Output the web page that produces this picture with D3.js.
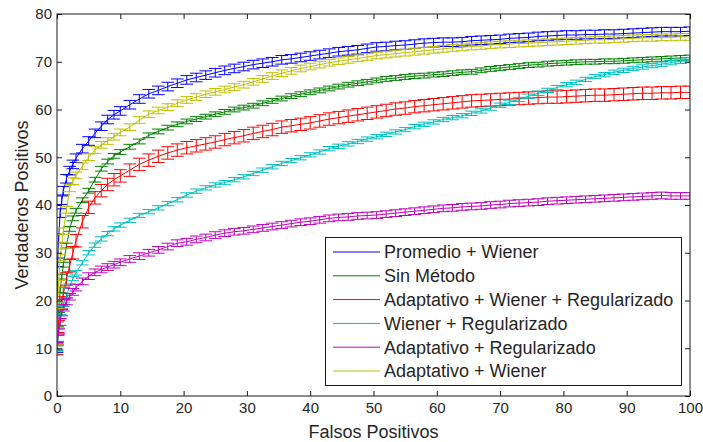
<!DOCTYPE html>
<html>
<head>
<meta charset="utf-8">
<script src="https://cdn.jsdelivr.net/npm/d3@7"></script>
<style>
  body { margin: 0; background: #fff; }
  svg { display: block; }
  text { font-family: "Liberation Sans", Arial, Helvetica, sans-serif; }
</style>
</head>
<body>
<svg id="chart" width="703" height="442"></svg>
<script>
// False positives at which each curve was sampled (shared by all methods)
const falsosPositivos = [
  0, 0.1, 0.25, 0.5, 0.75, 1, 1.5, 2, 2.5, 3, 4, 5, 6, 7, 8, 9, 10,
  11.5, 13, 14.5, 16, 17.5, 19, 20.5, 22, 23.5, 25,
  26.5, 28, 29.5, 31, 32.5, 34, 35.5, 37, 38.5, 40,
  41.5, 43, 44.5, 46, 47.5, 49, 50.5, 52, 53.5, 55,
  56.5, 58, 59.5, 61, 62.5, 64, 65.5, 67, 68.5, 70,
  71.5, 73, 74.5, 76, 77.5, 79, 80.5, 82, 83.5, 85,
  86.5, 88, 89.5, 91, 92.5, 94, 95.5, 97, 98.5, 100
];

// True positives for each method
const promedioWiener = [
  10, 28, 33, 38.3, 41, 43, 45.5, 47.2, 48.5, 49.8, 51.8, 53.4, 55.0, 56.5, 57.9, 58.9, 59.7,
  61.0, 62.2, 63.3, 64.0, 64.8, 65.5, 66.2, 66.7, 67.2, 67.7,
  68.2, 68.6, 69.0, 69.4, 69.7, 70.0, 70.4, 70.6, 70.9, 71.2,
  71.5, 71.8, 72.1, 72.3, 72.5, 72.8, 73.1, 73.2, 73.4, 73.5,
  73.7, 73.9, 74.0, 74.1, 74.1, 74.2, 74.4, 74.5, 74.6, 74.7,
  74.9, 75.0, 75.1, 75.3, 75.4, 75.5, 75.6, 75.6, 75.7, 75.7,
  75.8, 75.8, 75.9, 76.0, 76.1, 76.2, 76.3, 76.3, 76.3, 76.4
];
const sinMetodo = [
  10, 15, 18, 22.2, 25, 27.5, 31.5, 35, 37.2, 38.8, 41, 43, 45.3, 47.6, 49.1, 50.3, 51.1,
  52.2, 53.3, 54.6, 55.4, 56.2, 56.9, 57.5, 58.0, 58.5, 59.0,
  59.5, 60.0, 60.4, 60.8, 61.3, 61.8, 62.3, 62.8, 63.2, 63.6,
  64.0, 64.4, 64.8, 65.2, 65.5, 65.8, 66.1, 66.4, 66.6, 66.8,
  67.0, 67.1, 67.3, 67.4, 67.6, 67.8, 67.9, 68.2, 68.5, 68.7,
  68.9, 69.1, 69.3, 69.4, 69.6, 69.7, 69.8, 69.9, 70.0, 70.0,
  70.1, 70.1, 70.2, 70.3, 70.4, 70.5, 70.6, 70.7, 70.8, 70.9
];
const adaptWienerReg = [
  10, 12, 14.5, 17.5, 19.5, 21.5, 24.5, 27.3, 30, 32.5, 36.5, 39.5, 41.5, 43, 44.3, 45.3, 46.1,
  47.3, 48.5, 49.4, 50.2, 50.9, 51.5, 52.0, 52.4, 52.8, 53.2,
  53.7, 54.1, 54.5, 55.0, 55.4, 55.8, 56.3, 56.6, 56.9, 57.2,
  57.6, 58.0, 58.3, 58.6, 58.9, 59.2, 59.5, 59.8, 60.1, 60.3,
  60.6, 60.8, 61.0, 61.2, 61.4, 61.6, 61.8, 61.9, 62.0, 62.1,
  62.2, 62.3, 62.4, 62.5, 62.6, 62.6, 62.7, 62.8, 62.9, 63.0,
  63.0, 63.1, 63.2, 63.3, 63.4, 63.4, 63.5, 63.5, 63.6, 63.6
];
const wienerReg = [
  9, 11, 13.5, 16.6, 18.5, 19.2, 21, 23, 24.6, 25.8, 27.9, 30, 31.6, 32.9, 34, 35, 35.8,
  36.8, 37.8, 38.6, 39.4, 40.3, 41.1, 42.1, 42.9, 43.6, 44.2,
  44.7, 45.3, 45.9, 46.6, 47.3, 48.0, 48.7, 49.3, 49.9, 50.5,
  51.1, 51.8, 52.3, 52.8, 53.3, 53.8, 54.3, 54.8, 55.3, 55.8,
  56.4, 56.9, 57.4, 57.9, 58.3, 58.7, 59.2, 59.7, 60.3, 60.9,
  61.5, 62.1, 62.8, 63.4, 64.0, 64.6, 65.2, 65.7, 66.3, 66.9,
  67.3, 67.8, 68.2, 68.6, 68.9, 69.2, 69.5, 69.8, 70.1, 70.4
];
const adaptReg = [
  10.5, 12, 13.5, 15.5, 17.5, 18.5, 19.8, 20.8, 21.8, 22.7, 24, 25.1, 25.9, 26.5, 27.0, 27.5, 28,
  28.7, 29.3, 30.0, 30.6, 31.3, 32.0, 32.3, 32.8, 33.2, 33.7,
  34.1, 34.4, 34.6, 34.9, 35.2, 35.5, 35.8, 36.1, 36.4, 36.6,
  36.9, 37.2, 37.4, 37.5, 37.7, 37.8, 37.9, 38.1, 38.3, 38.5,
  38.7, 38.9, 39.1, 39.3, 39.4, 39.6, 39.7, 39.8, 40.0, 40.1,
  40.3, 40.4, 40.5, 40.6, 40.8, 40.9, 41.0, 41.1, 41.2, 41.3,
  41.4, 41.5, 41.6, 41.7, 41.8, 41.9, 42.0, 41.9, 41.9, 41.9
];
const adaptWiener = [
  10, 19, 23.5, 29, 31.5, 34.5, 39, 43.5, 45.0, 46.2, 48.1, 50.0, 51.5, 52.6, 53.4, 54.3, 55.2,
  56.3, 57.8, 59.0, 59.8, 60.5, 61.3, 62.0, 62.6, 63.2, 63.7,
  64.2, 64.7, 65.2, 65.8, 66.4, 67.0, 67.6, 68.1, 68.6, 69.0,
  69.4, 69.8, 70.1, 70.4, 70.7, 71.0, 71.3, 71.5, 71.7, 71.9,
  72.1, 72.3, 72.5, 72.7, 72.9, 73.0, 73.2, 73.3, 73.5, 73.6,
  73.7, 73.8, 73.9, 74.0, 74.1, 74.2, 74.3, 74.4, 74.5, 74.6,
  74.6, 74.7, 74.8, 74.9, 75.0, 75.0, 75.1, 75.1, 75.2, 75.2
];

// Half-width of the true-positive error bars for each method
const errores = [0.9, 0.5, 1.3, 0.45, 0.7, 0.7];

const metodos = [
  "Promedio + Wiener",
  "Sin Método",
  "Adaptativo + Wiener + Regularizado",
  "Wiener + Regularizado",
  "Adaptativo + Regularizado",
  "Adaptativo + Wiener"
];
const valores = [promedioWiener, sinMetodo, adaptWienerReg, wienerReg, adaptReg, adaptWiener];

const xTicks = [0, 10, 20, 30, 40, 50, 60, 70, 80, 90, 100];
const yTicks = [0, 10, 20, 30, 40, 50, 60, 70, 80];

// ---- layout and styling ----
const colores = ["#0000ff", "#008000", "#ff0000", "#00bfbf", "#bf00bf", "#bfbf00"];
const area = { left: 57, top: 14, right: 690, bottom: 396 };
const capHalf = 1;          // cap half-length, in x data units
const tickLen = 5;
const ink = "#1a1a1a";
const textInk = "#262626";

const svg = d3.select("#chart");

const x = d3.scaleLinear().domain([0, 100]).range([area.left, area.right]);
const y = d3.scaleLinear().domain([0, 80]).range([area.bottom, area.top]);

svg.append("defs").append("clipPath").attr("id", "plotClip")
  .append("rect")
  .attr("x", area.left).attr("y", area.top)
  .attr("width", area.right - area.left).attr("height", area.bottom - area.top);

// curves with error bars
const plot = svg.append("g").attr("clip-path", "url(#plotClip)");

valores.forEach((serie, i) => {
  const n = Math.min(serie.length, falsosPositivos.length);
  const pts = d3.range(n).map(k => ({ fp: falsosPositivos[k], tp: serie[k] }));
  const e = errores[i];
  const g = plot.append("g").attr("fill", "none").attr("stroke", colores[i]).attr("stroke-width", 1);

  g.append("path")
    .attr("d", d3.line().x(d => x(d.fp)).y(d => y(d.tp))(pts));

  const p = d3.path();
  pts.forEach(d => {
    const x0 = x(d.fp), xl = x(d.fp - capHalf), xr = x(d.fp + capHalf);
    const yl = y(d.tp - e), yh = y(d.tp + e);
    p.moveTo(x0, yl); p.lineTo(x0, yh);
    p.moveTo(xl, yl); p.lineTo(xr, yl);
    p.moveTo(xl, yh); p.lineTo(xr, yh);
  });
  g.append("path").attr("d", p.toString());
});

// axes: ticks pointing inward on all four sides
const fontTick = 15;
const bottomAxis = d3.axisBottom(x).tickValues(xTicks).tickSizeInner(-tickLen).tickSizeOuter(0).tickPadding(6);
const leftAxis = d3.axisLeft(y).tickValues(yTicks).tickSizeInner(-tickLen).tickSizeOuter(0).tickPadding(5);
const topAxis = d3.axisTop(x).tickValues(xTicks).tickSizeInner(-tickLen).tickSizeOuter(0).tickFormat("");
const rightAxis = d3.axisRight(y).tickValues(yTicks).tickSizeInner(-tickLen).tickSizeOuter(0).tickFormat("");

function styleAxis(sel) {
  sel.select(".domain").remove();
  sel.selectAll(".tick line").attr("stroke", ink);
  sel.selectAll(".tick text").attr("fill", textInk).style("font-size", fontTick + "px")
    .style("font-family", '"Liberation Sans", Arial, sans-serif');
}

svg.append("g").attr("transform", `translate(0,${area.bottom})`).call(bottomAxis).call(styleAxis);
svg.append("g").attr("transform", `translate(${area.left},0)`).call(leftAxis).call(styleAxis);
svg.append("g").attr("transform", `translate(0,${area.top})`).call(topAxis).call(styleAxis);
svg.append("g").attr("transform", `translate(${area.right},0)`).call(rightAxis).call(styleAxis);

// axes box
svg.append("rect")
  .attr("x", area.left).attr("y", area.top)
  .attr("width", area.right - area.left).attr("height", area.bottom - area.top)
  .attr("fill", "none").attr("stroke", ink).attr("stroke-width", 1);

// axis titles
svg.append("text")
  .attr("x", (area.left + area.right) / 2).attr("y", 438)
  .attr("text-anchor", "middle").attr("fill", textInk).style("font-size", "18px")
  .text("Falsos Positivos");

svg.append("text")
  .attr("transform", `translate(28,${(area.top + area.bottom) / 2}) rotate(-90)`)
  .attr("text-anchor", "middle").attr("fill", textInk).style("font-size", "18px")
  .text("Verdaderos Positivos");

// legend
const leg = { x: 325, y: 237, w: 356, h: 148, row0: 252, rowStep: 23.8 };
const legend = svg.append("g");
legend.append("rect")
  .attr("x", leg.x + 0.5).attr("y", leg.y + 0.5).attr("width", leg.w).attr("height", leg.h)
  .attr("fill", "#fff").attr("stroke", ink).attr("stroke-width", 1);

metodos.forEach((name, i) => {
  const yy = leg.row0 + i * leg.rowStep;
  legend.append("line")
    .attr("x1", leg.x + 8).attr("x2", leg.x + 55)
    .attr("y1", yy).attr("y2", yy)
    .attr("stroke", colores[i]).attr("stroke-width", 1);
  legend.append("text")
    .attr("x", leg.x + 59).attr("y", yy).attr("dy", "0.35em")
    .attr("fill", textInk).style("font-size", "18px")
    .text(name);
});
</script>
</body>
</html>
